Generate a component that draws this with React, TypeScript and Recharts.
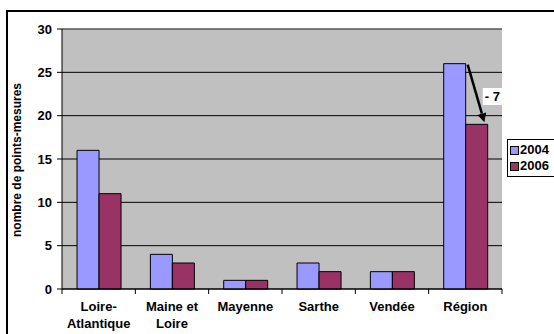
import { BarChart, Bar, XAxis, YAxis, CartesianGrid, ReferenceLine } from "recharts";

const categories = ["Loire-\nAtlantique", "Maine et\nLoire", "Mayenne", "Sarthe", "Vendée", "Région"];
const values2004 = [16, 4, 1, 3, 2, 26];
const values2006 = [11, 3, 1, 2, 2, 19];
const yTicks = [0, 5, 10, 15, 20, 25, 30];
const seriesNames = ["2004", "2006"];
const seriesColors = ["#9999FF", "#993366"];

const data = categories.map((name, i) => ({ name, y2004: values2004[i], y2006: values2006[i] }));

const W = 554;
const H = 334;
const M = { top: 29, right: 52, left: 22, bottom: 0 };
const Y_W = 40;
const bandW = (W - M.left - M.right - Y_W) / categories.length;
const FONT = "'Liberation Sans', Arial, sans-serif";

function CatTick(props: any) {
  const { x, y, payload, index } = props;
  const lines = String(payload.value).split("\n");
  return (
    <g>
      <line x1={x - bandW / 2} x2={x - bandW / 2} y1={y} y2={y + 5} stroke="#000" />
      {index === categories.length - 1 && (
        <line x1={x + bandW / 2} x2={x + bandW / 2} y1={y} y2={y + 5} stroke="#000" />
      )}
      <text textAnchor="middle" fontFamily={FONT} fontWeight="bold" fontSize={13} fill="#000">
        {lines.map((l, k) => (
          <tspan key={k} x={x} y={y + 22 + k * 17}>
            {l}
          </tspan>
        ))}
      </text>
    </g>
  );
}

// arrow from the 2004 top to the 2006 top of the last category
function DiffLabel(props: any) {
  const { x, y, width, height, index } = props;
  if (index !== categories.length - 1) return null;
  const v6 = values2006[index];
  const v4 = values2004[index];
  const unit = height / v6;
  const base = y + height;
  const y4 = base - v4 * unit;
  const x1 = x + 2;
  const y1 = y4 + 1;
  const x2 = x + width * 0.85;
  const y2 = y - 2;
  const ang = Math.atan2(y2 - y1, x2 - x1);
  const hl = 9;
  const hw = 4.5;
  const bx = x2 - hl * Math.cos(ang);
  const by = y2 - hl * Math.sin(ang);
  const px = -Math.sin(ang) * hw;
  const py = Math.cos(ang) * hw;
  const midY = (y4 + y) / 2 + 2;
  return (
    <g>
      <line x1={x1} y1={y1} x2={bx} y2={by} stroke="#000" strokeWidth={2.5} />
      <polygon points={`${x2},${y2} ${bx + px},${by + py} ${bx - px},${by - py}`} fill="#000" />
      <rect x={x + 17} y={midY - 8} width={20} height={17} fill="#fff" />
      <text x={x + 19} y={midY + 5} fontFamily={FONT} fontWeight="bold" fontSize={13} fill="#000">
        {"- " + (v4 - v6)}
      </text>
    </g>
  );
}

function LegendBox() {
  return (
    <div
      style={{
        position: "absolute",
        left: 507,
        top: 139,
        width: 44,
        border: "1px solid #000",
        background: "#fff",
        padding: "2px 0 2px 2px",
        fontFamily: FONT,
        fontWeight: "bold",
        fontSize: 13,
        lineHeight: "16px",
      }}
    >
      {seriesNames.map((label, i) => (
        <div key={label} style={{ display: "flex", alignItems: "center" }}>
          <span
            style={{
              display: "inline-block",
              width: 7,
              height: 7,
              background: seriesColors[i],
              border: "1px solid #000",
              marginRight: 1,
            }}
          />
          {label}
        </div>
      ))}
    </div>
  );
}

export default function App() {
  return (
    <div style={{ position: "fixed", left: 0, top: 0, width: W, height: H, background: "#fff", overflow: "hidden" }}>
      <div style={{ position: "absolute", left: 6, top: 10, right: 0, height: 340, borderTop: "2px solid #000", borderLeft: "2px solid #000" }} />
      <BarChart
        width={W}
        height={H}
        data={data}
        margin={M}
        barCategoryGap="20.5%"
        barGap={0}
        style={{ position: "absolute", left: 0, top: 0 }}
      >
        <CartesianGrid vertical={false} fill="#C0C0C0" stroke="#000" strokeOpacity={1} />
        <XAxis
          dataKey="name"
          interval={0}
          tickLine={false}
          tickSize={0}
          tickMargin={0}
          height={45}
          axisLine={{ stroke: "#000" }}
          tick={<CatTick />}
        />
        <YAxis
          width={Y_W}
          domain={[0, 30]}
          ticks={yTicks}
          interval={0}
          tickSize={5}
          tickMargin={5}
          axisLine={{ stroke: "#000" }}
          tickLine={{ stroke: "#000" }}
          tick={{ fill: "#000", fontFamily: FONT, fontWeight: "bold", fontSize: 13 }}
          label={{
            value: "nombre de points-mesures",
            angle: -90,
            position: "insideLeft",
            dx: -10,
            dy: 78,
            style: { fill: "#000", fontFamily: FONT, fontWeight: "bold", fontSize: 12 },
          }}
        />
        <YAxis yAxisId="r" orientation="right" width={0} domain={[0, 30]} tick={false} tickLine={false} axisLine={{ stroke: "#808080" }} />
        <ReferenceLine y={30} stroke="#808080" />
        <Bar dataKey="y2004" name={seriesNames[0]} fill={seriesColors[0]} stroke="#000" strokeWidth={1} isAnimationActive={false} />
        <Bar
          dataKey="y2006"
          name={seriesNames[1]}
          fill={seriesColors[1]}
          stroke="#000"
          strokeWidth={1}
          isAnimationActive={false}
          label={<DiffLabel />}
        />
      </BarChart>
      <LegendBox />
    </div>
  );
}
